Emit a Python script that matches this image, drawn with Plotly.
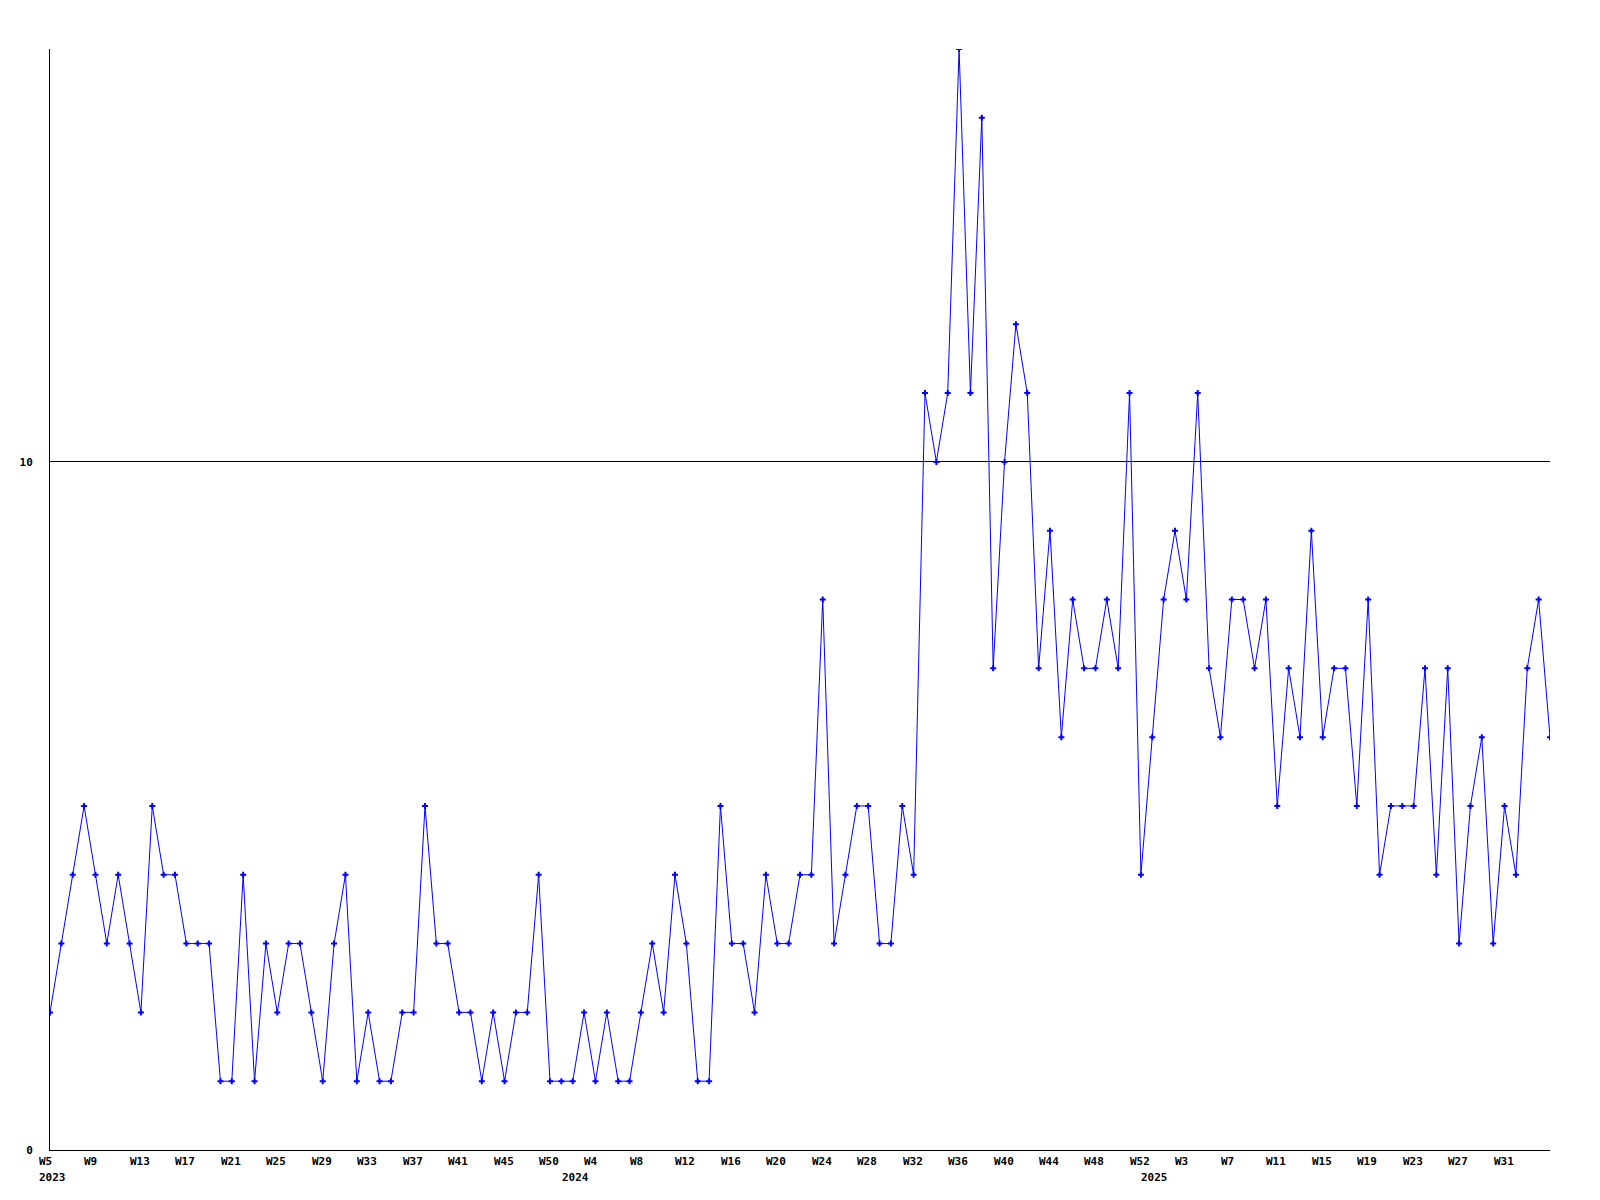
import plotly.graph_objects as go

# Weekly values, W5 2023 .. W35 2025 (one value per week)
values = [
    2, 3, 4, 5, 4, 3, 4, 3, 2, 5, 4, 4, 3, 3, 3, 1, 1, 4, 1, 3,
    2, 3, 3, 2, 1, 3, 4, 1, 2, 1, 1, 2, 2, 5, 3, 3, 2, 2, 1, 2,
    1, 2, 2, 4, 1, 1, 1, 2, 1, 2, 1, 1, 2, 3, 2, 4, 3, 1, 1, 5,
    3, 3, 2, 4, 3, 3, 4, 4, 8, 3, 4, 5, 5, 3, 3, 5, 4, 11, 10, 11,
    16, 11, 15, 7, 10, 12, 11, 7, 9, 6, 8, 7, 7, 8, 7, 11, 4, 6, 8, 9,
    8, 11, 7, 6, 8, 8, 7, 8, 5, 7, 6, 9, 6, 7, 7, 5, 8, 4, 5, 5,
    5, 7, 4, 7, 3, 5, 6, 3, 5, 4, 7, 8, 6,
]

# Week tick labels (every 4th week)
week_labels = [
    "W5", "W9", "W13", "W17", "W21", "W25", "W29", "W33", "W37", "W41", "W45",
    "W50", "W4", "W8", "W12", "W16", "W20", "W24", "W28", "W32", "W36", "W40",
    "W44", "W48", "W52", "W3", "W7", "W11", "W15", "W19", "W23", "W27", "W31",
]
label_step = 4

# Year labels and the week index at which each year starts
year_labels = ["2023", "2024", "2025"]
year_index = [0, 46, 97]

y_ticks = [0, 10]

FONT = "DejaVu Sans Mono"
x = list(range(len(values)))

fig = go.Figure()
fig.add_trace(go.Scatter(
    x=x, y=values, mode="lines+markers",
    line=dict(color="#0000ff", width=1),
    marker=dict(symbol="cross", size=5, color="#0000ff", line=dict(width=0)),
    hoverinfo="x+y", showlegend=False,
))

annotations = []
for i, lab in enumerate(week_labels):
    annotations.append(dict(
        x=i * label_step, xref="x", y=0, yref="paper",
        text=lab, showarrow=False, xanchor="left", yanchor="top",
        xshift=-13, yshift=-3,
        font=dict(family=FONT, size=11, color="black", weight="bold"),
    ))
for lab, idx in zip(year_labels, year_index):
    annotations.append(dict(
        x=idx, xref="x", y=0, yref="paper",
        text=lab, showarrow=False, xanchor="left", yanchor="top",
        xshift=-13, yshift=-19,
        font=dict(family=FONT, size=11, color="black", weight="bold"),
    ))

# page body has an 8px margin, so the figure is sized to fit the window
fig.update_layout(
    width=1584, height=1184,
    margin=dict(l=42, r=42, t=41, b=42),
    paper_bgcolor="white", plot_bgcolor="white",
    annotations=annotations,
    xaxis=dict(
        range=[0, len(values) - 1], showgrid=False, zeroline=False,
        showline=True, linecolor="black", linewidth=1,
        showticklabels=False, ticks="",
    ),
    yaxis=dict(
        range=[0, 16], tickvals=y_ticks, ticktext=[str(v) for v in y_ticks],
        showgrid=True, gridcolor="black", gridwidth=1, zeroline=False,
        showline=True, linecolor="black", linewidth=1,
        ticks="outside", ticklen=14, tickcolor="rgba(0,0,0,0)",
        tickfont=dict(family=FONT, size=11, color="black", weight="bold"),
    ),
)

fig.write_html("out.html")
